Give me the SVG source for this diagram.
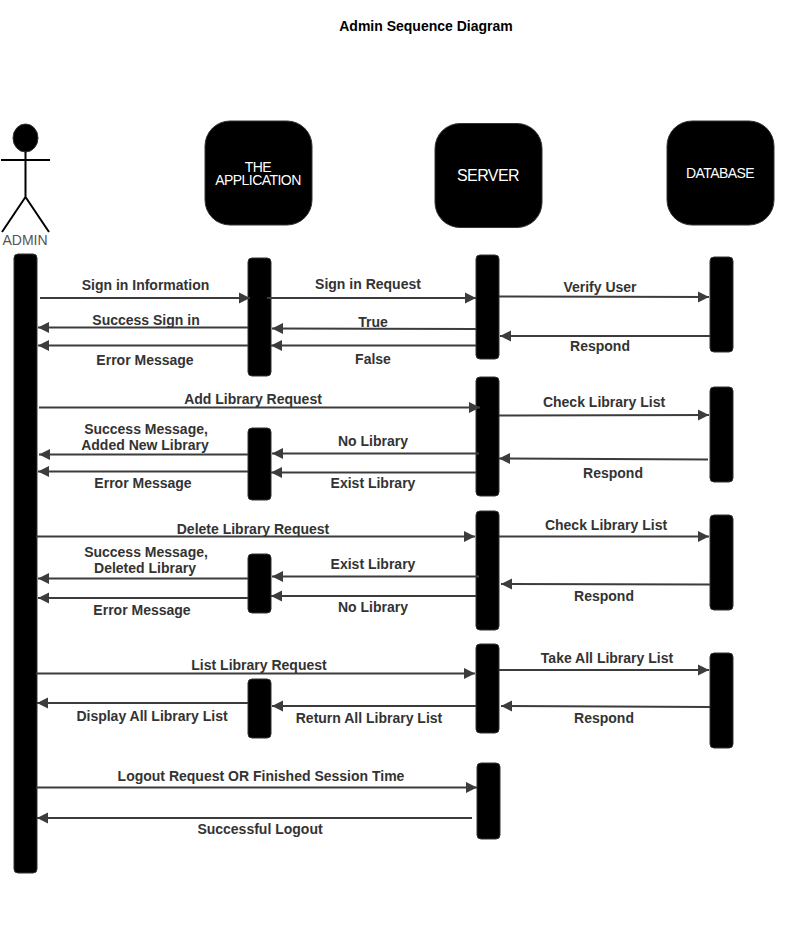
<svg xmlns="http://www.w3.org/2000/svg" width="812" height="925" viewBox="0 0 812 925">
<style>
text{font-family:"Liberation Sans",Arial,sans-serif}
.bar{fill:#000;stroke:#333;stroke-width:1}
.head{fill:#000;stroke:#333;stroke-width:1}
.ht{fill:#fff;font-size:14px;text-anchor:middle;letter-spacing:-.55px}
.lb{fill:#333;font-size:14px;font-weight:bold;text-anchor:middle;stroke:none}
.m{stroke:#3c3c3c;stroke-width:2;fill:none;marker-end:url(#a)}
.fig{stroke:#000;stroke-width:2;fill:none}
</style>
<defs><marker id="a" markerUnits="userSpaceOnUse" markerWidth="12" markerHeight="12" refX="11" refY="6" orient="auto"><path d="M0 0.5L11 6L0 11.500Z" fill="#3c3c3c"/></marker></defs>
<rect width="812" height="925" fill="#fff"/>
<text x="426" y="31" font-size="14" font-weight="bold" text-anchor="middle" fill="#000">Admin Sequence Diagram</text>
<g id="admin"><ellipse cx="25.500" cy="138" rx="12.500" ry="14" fill="#000" stroke="#333"/><path class="fig" d="M25.500 152V197M1 160H50M25.500 197L2 232M25.500 197L49 232"/><text x="25" y="245" font-size="14" fill="#555" text-anchor="middle">ADMIN</text></g>
<g id="application"><rect class="head" x="205" y="121" width="107" height="104" rx="25"/><text class="ht"><tspan x="258" y="172">THE</tspan><tspan x="258" y="185">APPLICATION</tspan></text></g>
<g id="server"><rect class="head" x="435" y="123.500" width="107" height="104" rx="25"/><text class="ht" x="488" y="181" style="font-size:16px">SERVER</text></g>
<g id="database"><rect class="head" x="667" y="121" width="107" height="104" rx="25"/><text class="ht" x="720" y="178">DATABASE</text></g>
<g id="lifelines">
<rect class="bar" x="14" y="254" width="23" height="619" rx="4"/>
<rect class="bar" x="248" y="258" width="23" height="118" rx="4"/>
<rect class="bar" x="476" y="255" width="23" height="104" rx="4"/>
<rect class="bar" x="710" y="257" width="23" height="95" rx="4"/>
<rect class="bar" x="476" y="377" width="23" height="119" rx="4"/>
<rect class="bar" x="710" y="387" width="23" height="95" rx="4"/>
<rect class="bar" x="248" y="428" width="23" height="72" rx="4"/>
<rect class="bar" x="476" y="511" width="23" height="119" rx="4"/>
<rect class="bar" x="710" y="515" width="23" height="95" rx="4"/>
<rect class="bar" x="248" y="554" width="23" height="59" rx="4"/>
<rect class="bar" x="476" y="644" width="23" height="89" rx="4"/>
<rect class="bar" x="710" y="653" width="23" height="95" rx="4"/>
<rect class="bar" x="248" y="679" width="23" height="59" rx="4"/>
<rect class="bar" x="477" y="763" width="23" height="76" rx="4"/>
</g>
<g id="connectors">
<path class="m" d="M40 298H250"/><path class="m" d="M267 298H476"/><path class="m" d="M499 296.500L709 297"/>
<path class="m" d="M248 327.500H38"/><path class="m" d="M476 329L272 328.500"/><path class="m" d="M710 336H500"/>
<path class="m" d="M248 345.500H38"/><path class="m" d="M476 345.500H271"/>
<path class="m" d="M39 407.500H480"/><path class="m" d="M499 415.500L709 415"/>
<path class="m" d="M248 454.500H39"/><path class="m" d="M479 453.500H272"/><path class="m" d="M708 459.500L499 458.500"/>
<path class="m" d="M248 471.500H38"/><path class="m" d="M476 472.500H271"/>
<path class="m" d="M36 536.500H475"/><path class="m" d="M499 536.500H709"/>
<path class="m" d="M248 578.500H38"/><path class="m" d="M479 576.500H272"/><path class="m" d="M710 584.500L501 584"/>
<path class="m" d="M248 598H38"/><path class="m" d="M476 596H271"/>
<path class="m" d="M36 673.500H475"/><path class="m" d="M499 670H709"/>
<path class="m" d="M248 703H37"/><path class="m" d="M476 706H272"/><path class="m" d="M710 707L501 706"/>
<path class="m" d="M36 787.500H477"/><path class="m" d="M472 818H37"/>
</g>
<g id="labels">
<text class="lb" x="145.500" y="290">Sign in Information</text>
<text class="lb" x="146" y="325">Success Sign in</text>
<text class="lb" x="145" y="365">Error Message</text>
<text class="lb" x="368" y="289">Sign in Request</text>
<text class="lb" x="373" y="327">True</text>
<text class="lb" x="373" y="364">False</text>
<text class="lb" x="600" y="292">Verify User</text>
<text class="lb" x="600" y="351">Respond</text>
<text class="lb" x="253" y="404">Add Library Request</text>
<text class="lb" x="604" y="407">Check Library List</text>
<text class="lb" x="146" y="434">Success Message,</text>
<text class="lb" x="145" y="450">Added New Library</text>
<text class="lb" x="373" y="446">No Library</text>
<text class="lb" x="613" y="478">Respond</text>
<text class="lb" x="143" y="488">Error Message</text>
<text class="lb" x="373" y="488">Exist Library</text>
<text class="lb" x="253" y="534">Delete Library Request</text>
<text class="lb" x="606" y="530">Check Library List</text>
<text class="lb" x="146" y="557">Success Message,</text>
<text class="lb" x="145" y="573">Deleted Library</text>
<text class="lb" x="373" y="569">Exist Library</text>
<text class="lb" x="604" y="601">Respond</text>
<text class="lb" x="142" y="615">Error Message</text>
<text class="lb" x="373" y="612">No Library</text>
<text class="lb" x="259" y="670">List Library Request</text>
<text class="lb" x="607" y="663">Take All Library List</text>
<text class="lb" x="152" y="721">Display All Library List</text>
<text class="lb" x="369" y="723">Return All Library List</text>
<text class="lb" x="604" y="723">Respond</text>
<text class="lb" x="261" y="781">Logout Request OR Finished Session Time</text>
<text class="lb" x="260" y="834">Successful Logout</text>
</g>
</svg>
